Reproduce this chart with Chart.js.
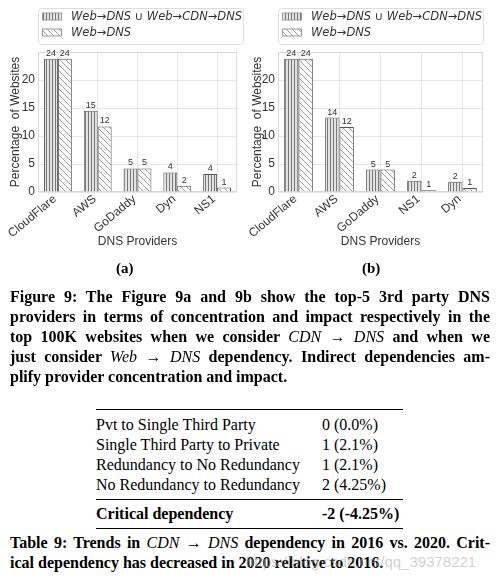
<!DOCTYPE html>
<html>
<head>
<meta charset="utf-8">
<script src="https://cdn.jsdelivr.net/npm/chart.js"></script>
<style>
  html, body { margin: 0; padding: 0; background: #fff; }
  body { width: 499px; height: 579px; position: relative; overflow: hidden; }
  canvas { position: absolute; top: 0; }
  #chartA { left: 0; }
  #chartB { left: 245px; }
  .sub { position: absolute; top: 260px; font: bold 15px "Liberation Serif", serif; color: #000; }
  .cap { position: absolute; left: 10px; width: 480px; font: bold 16px/20px "Liberation Serif", serif; color: #000; }
  .cap .ln { text-align: justify; text-align-last: justify; }
  .cap i { font-weight: normal; }
  #tbl { position: absolute; left: 96px; top: 409px; width: 307px; border-collapse: collapse;
         font: 16px/20px "Liberation Serif", serif; color: #000; }
  #tbl td { padding: 0; }
  #tbl td.v { padding-left: 0; width: 81px; }
  #tbl tr.first td { padding-top: 5px; border-top: 1.5px solid #000; }
  #tbl tr.last td { padding-bottom: 4px; }
  #tbl tr.crit td { font-weight: bold; padding-top: 4px; padding-bottom: 4px; border-top: 1px solid #000; border-bottom: 1.5px solid #000; }
  .wm { position: absolute; left: 246px; top: 553px; font: 15px "Liberation Sans", sans-serif; color: rgba(170,170,170,0.55); }
</style>
</head>
<body>
<canvas id="chartA" width="250" height="262"></canvas>
<canvas id="chartB" width="254" height="262"></canvas>
<div class="sub" style="left:116px">(a)</div>
<div class="sub" style="left:362px">(b)</div>

<div class="cap" style="top:287px">
  <div class="ln">Figure 9: The Figure 9a and 9b show the top-5 3rd party DNS</div>
  <div class="ln">providers in terms of concentration and impact respectively in the</div>
  <div class="ln">top 100K websites when we consider <i>CDN</i> &rarr; <i>DNS</i> and when we</div>
  <div class="ln">just consider <i>Web</i> &rarr; <i>DNS</i> dependency. Indirect dependencies am-</div>
  <div>plify provider concentration and impact.</div>
</div>

<table id="tbl">
  <tr class="first"><td>Pvt to Single Third Party</td><td class="v">0 (0.0%)</td></tr>
  <tr><td>Single Third Party to Private</td><td class="v">1 (2.1%)</td></tr>
  <tr><td>Redundancy to No Redundancy</td><td class="v">1 (2.1%)</td></tr>
  <tr class="last"><td>No Redundancy to Redundancy</td><td class="v">2 (4.25%)</td></tr>
  <tr class="crit"><td>Critical dependency</td><td class="v">-2 (-4.25%)</td></tr>
</table>

<div class="cap" style="top:533px">
  <div class="ln">Table 9: Trends in <i>CDN</i> &rarr; <i>DNS</i> dependency in 2016 vs. 2020. Crit-</div>
  <div>ical dependency has decreased in 2020 relative to 2016.</div>
</div>
<div class="wm">https://blog.csdn.net/qq_39378221</div>

<script>
// Figure 9a: concentration
const providersA = ['CloudFlare', 'AWS', 'GoDaddy', 'Dyn', 'NS1'];
const indirectA = [23.8, 14.5, 4.2, 3.5, 3.2];
const directA = [23.8, 11.7, 4.2, 1.1, 0.8];
const indirectLabelsA = ['24', '15', '5', '4', '4'];
const directLabelsA = ['24', '12', '5', '2', '1'];

// Figure 9b: impact
const providersB = ['CloudFlare', 'AWS', 'GoDaddy', 'NS1', 'Dyn'];
const indirectB = [23.8, 13.3, 4.0, 2.0, 1.85];
const directB = [23.8, 11.6, 4.0, 0.3, 0.7];
const indirectLabelsB = ['24', '14', '5', '2', '2'];
const directLabelsB = ['24', '12', '5', '1', '1'];

const seriesNames = ['Web\u2192DNS \u222A Web\u2192CDN\u2192DNS', 'Web\u2192DNS'];
const yTicks = [0, 5, 10, 15, 20];
const yMax = 25;

const TEXT = '#333';
const GRID = '#e6e6e6';

// hatch patterns
function stripePattern() {
    const c = document.createElement('canvas');
    c.width = 3; c.height = 3;
    const g = c.getContext('2d');
    g.fillStyle = '#e2e2e2';
    g.fillRect(0, 0, 3, 3);
    g.fillStyle = '#7a7a7a';
    g.fillRect(1, 0, 1, 3);
    return g.createPattern(c, 'repeat');
}
function diagPattern() {
    const c = document.createElement('canvas');
    c.width = 6; c.height = 6;
    const g = c.getContext('2d');
    g.fillStyle = '#fbfbfb';
    g.fillRect(0, 0, 6, 6);
    g.strokeStyle = '#8a8a8a';
    g.lineWidth = 0.8;
    g.beginPath();
    g.moveTo(-1, -1); g.lineTo(7, 7);
    g.moveTo(-1, 5); g.lineTo(1, 7);
    g.moveTo(5, -1); g.lineTo(7, 1);
    g.stroke();
    return g.createPattern(c, 'repeat');
}

const decor = {
    id: 'decor',
    beforeDatasetsDraw(chart) {
        const { ctx, chartArea: a } = chart;
        ctx.save();
        ctx.strokeStyle = '#d8d8d8';
        ctx.lineWidth = 1;
        ctx.strokeRect(a.left + 0.5, a.top + 0.5, a.width - 1, a.height - 1);
        ctx.restore();
    },
    afterDatasetsDraw(chart, args, opts) {
        const { ctx } = chart;
        ctx.save();
        ctx.fillStyle = TEXT;
        ctx.font = '9px "Liberation Sans", Arial, sans-serif';
        ctx.textAlign = 'center';
        ctx.textBaseline = 'bottom';
        chart.data.datasets.forEach((ds, i) => {
            chart.getDatasetMeta(i).data.forEach((bar, j) => {
                ctx.fillText(opts.labels[i][j], bar.x, bar.y - 1);
            });
        });
        ctx.restore();
    },
    afterDraw(chart) {
        const { ctx, chartArea: a } = chart;
        const left = a.left, top = 8, w = 205, h = 36;
        ctx.save();
        ctx.fillStyle = '#fff';
        ctx.strokeStyle = '#dddddd';
        ctx.lineWidth = 1;
        ctx.beginPath();
        if (ctx.roundRect) ctx.roundRect(left + 0.5, top + 0.5, w, h, 3);
        else ctx.rect(left + 0.5, top + 0.5, w, h);
        ctx.fill();
        ctx.stroke();
        ctx.font = 'italic 11.5px "DejaVu Sans", sans-serif';
        ctx.textBaseline = 'middle';
        chart.data.datasets.forEach((ds, i) => {
            const cy = top + 8.5 + i * 16;
            ctx.fillStyle = ds.backgroundColor;
            ctx.fillRect(left + 4, cy - 3.5, 20, 7);
            ctx.strokeStyle = '#999';
            ctx.strokeRect(left + 4.5, cy - 3.5, 19, 7);
            ctx.fillStyle = TEXT;
            ctx.fillText(ds.label, left + 33, cy + 0.5);
        });
        ctx.restore();
    }
};

function makeChart(id, cats, d1, d2, l1, l2, yWidth, yTitlePad, rightPad) {
    return new Chart(document.getElementById(id), {
        type: 'bar',
        data: {
            labels: cats,
            datasets: [
                { label: seriesNames[0], data: d1, backgroundColor: stripePattern(),
                  borderColor: '#555', borderWidth: 1 },
                { label: seriesNames[1], data: d2, backgroundColor: diagPattern(),
                  borderColor: '#555', borderWidth: 1 }
            ]
        },
        options: {
            responsive: false,
            animation: false,
            layout: { padding: { top: 52, right: rightPad, left: 0, bottom: 0 } },
            datasets: { bar: { categoryPercentage: 0.7, barPercentage: 1.0 } },
            plugins: {
                legend: { display: false },
                tooltip: { enabled: false },
                decor: { labels: [l1, l2] }
            },
            scales: {
                x: {
                    grid: { color: GRID, offset: false, drawTicks: false },
                    border: { display: false },
                    ticks: {
                        color: TEXT, maxRotation: 40, minRotation: 40, padding: 0, labelOffset: -3,
                        font: { family: '"Liberation Sans", Arial, sans-serif', size: 12 }
                    },
                    title: {
                        display: true, text: 'DNS Providers', color: TEXT,
                        font: { family: '"Liberation Sans", Arial, sans-serif', size: 12 },
                        padding: { top: 13, bottom: 13 }
                    },
                    afterFit: s => { s.height = 70; }
                },
                y: {
                    min: 0, max: yMax,
                    grid: { color: GRID, drawTicks: false },
                    border: { display: false },
                    afterBuildTicks: s => { s.ticks = yTicks.map(v => ({ value: v })); },
                    ticks: {
                        color: TEXT, padding: 3,
                        font: { family: '"Liberation Sans", Arial, sans-serif', size: 12 }
                    },
                    title: {
                        display: true, text: 'Percentage  of Websites', color: TEXT,
                        font: { family: '"Liberation Sans", Arial, sans-serif', size: 12 },
                        padding: { top: yTitlePad, bottom: yTitlePad }
                    },
                    afterFit: s => { s.width = yWidth; }
                }
            }
        },
        plugins: [decor]
    });
}

makeChart('chartA', providersA, indirectA, directA, indirectLabelsA, directLabelsA, 38, 8, 13);
makeChart('chartB', providersB, indirectB, directB, indirectLabelsB, directLabelsB, 33, 5, 16);
</script>
</body>
</html>
